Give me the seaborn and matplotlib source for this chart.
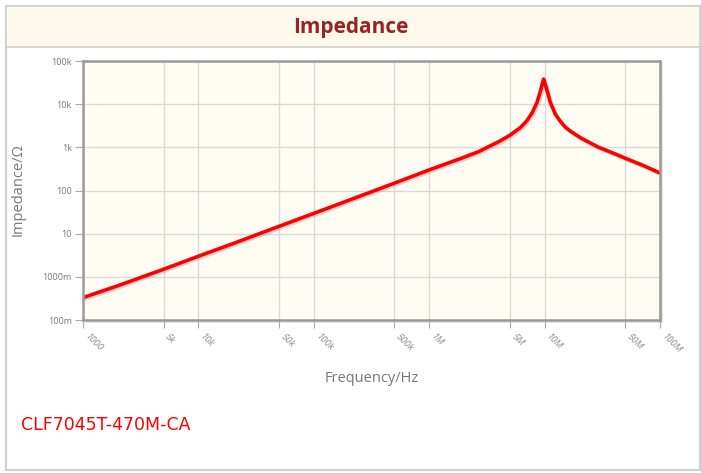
import matplotlib
matplotlib.use("Agg")
import matplotlib.pyplot as plt
import matplotlib.patheffects as pe
from matplotlib.patches import Rectangle
import seaborn as sns
import pandas as pd

# ---- data ----
freq_hz = [1e3, 2e3, 5e3, 1e4, 2e4, 5e4, 1e5, 2e5, 5e5, 1e6, 1.8e6, 2.7e6,
           3.3e6, 4.0e6, 5.0e6, 6.2e6, 7.0e6, 7.8e6, 8.6e6, 9.2e6, 9.5e6, 9.8e6,
           10.2e6, 10.6e6, 11.2e6, 12.4e6, 13.7e6, 15.1e6, 17e6, 21e6, 29e6,
           40e6, 50e6, 70e6, 100e6]
impedance_ohm = [0.33, 0.62, 1.5, 3.0, 5.9, 14.8, 29.5, 59, 148, 300, 530, 800,
                 1050, 1350, 1900, 2900, 4100, 6300, 11000, 20000, 28000, 38000,
                 27000, 19000, 11000, 5800, 4000, 2950, 2300, 1600, 1020,
                 720, 560, 390, 255]

x_ticks = [1e3, 5e3, 1e4, 5e4, 1e5, 5e5, 1e6, 5e6, 1e7, 5e7, 1e8]
x_tick_labels = ["1000", "5k", "10k", "50k", "100k", "500k", "1M", "5M",
                 "10M", "50M", "100M"]
y_ticks = [0.1, 1, 10, 100, 1e3, 1e4, 1e5]
y_tick_labels = ["100m", "1000m", "10", "100", "1k", "10k", "100k"]

title = "Impedance"
x_label = "Frequency/Hz"
y_label = "Impedance/Ω"
part_name = "CLF7045T-470M-CA"

df = pd.DataFrame({"freq": freq_hz, "z": impedance_ohm})

sns.set_theme(style="white")
plt.rcParams["font.family"] = ["Open Sans", "DejaVu Sans"]

W, H = 701, 473
fig = plt.figure(figsize=(W / 100, H / 100), dpi=100)
fig.patch.set_facecolor("white")

def fx(px):
    return px / W

def fy(py):
    return 1 - py / H

# outer frame and header band
fig.patches.append(Rectangle((fx(6), fy(470)), fx(700) - fx(6), fy(6) - fy(470),
                             transform=fig.transFigure, facecolor="white",
                             edgecolor="#cfcfcf", linewidth=1.5, zorder=-3))
fig.patches.append(Rectangle((fx(6), fy(47)), fx(700) - fx(6), fy(6) - fy(47),
                             transform=fig.transFigure, facecolor="#fdf9ec",
                             edgecolor="#cfcfcf", linewidth=1.2, zorder=-2))
fig.text(0.5, fy(27), title, ha="center", va="center", fontsize=15,
         fontweight="bold", color="#9a2222")

# axes shadow
ax_l, ax_r, ax_t, ax_b = 83, 660, 61, 320
fig.patches.append(Rectangle((fx(ax_l + 3), fy(ax_b + 3)), fx(ax_r) - fx(ax_l),
                             fy(ax_t) - fy(ax_b), transform=fig.transFigure,
                             facecolor="#e6e6e6", edgecolor="none", zorder=-1))
ax = fig.add_axes([fx(ax_l), fy(ax_b), fx(ax_r) - fx(ax_l), fy(ax_t) - fy(ax_b)])
ax.set_zorder(1)
ax.set_facecolor("#fffcf4")

sns.lineplot(data=df, x="freq", y="z", ax=ax, color="#ff0000", linewidth=2.6,
             path_effects=[pe.SimpleLineShadow(offset=(1, -1.2), shadow_color="#888888", alpha=0.35),
                           pe.Normal()])
ax.set_xscale("log")
ax.set_yscale("log")
ax.set_xlim(1e3, 1e8)
ax.set_ylim(0.1, 1e5)

ax.set_xticks(x_ticks)
ax.set_xticklabels(x_tick_labels, rotation=-45, ha="left", va="top",
                   fontsize=6.8, color="#8a8a8a", fontstyle="italic")
ax.set_yticks(y_ticks)
ax.set_yticklabels(y_tick_labels, fontsize=6.5, color="#777777")
ax.minorticks_off()
ax.tick_params(axis="both", which="major", length=6, width=0.8,
               color="#aaaaaa", direction="out", pad=2)
ax.tick_params(axis="x", pad=3)
ax.tick_params(axis="y", left=True)
ax.tick_params(axis="x", bottom=True)
ax.grid(True, which="major", color="#d9d9d9", linewidth=1)
ax.set_axisbelow(True)
for s in ax.spines.values():
    s.set_color("#9a9a9a")
    s.set_linewidth(1.8)

ax.set_xlabel(x_label, fontsize=10.5, color="#777777")
ax.set_ylabel(y_label, fontsize=10.5, color="#777777")
ax.xaxis.label.set_verticalalignment("center")
ax.yaxis.label.set_verticalalignment("center")
ax.xaxis.set_label_coords((372 - ax_l) / (ax_r - ax_l), -(378 - ax_b) / (ax_b - ax_t))
ax.yaxis.set_label_coords(-(ax_l - 18) / (ax_r - ax_l), (ax_b - 190) / (ax_b - ax_t))

fig.text(fx(21), fy(425), part_name, ha="left", va="center", fontsize=12.5,
         color="#ff0000", family=["DejaVu Sans"])

fig.savefig("out.png", dpi=100)
